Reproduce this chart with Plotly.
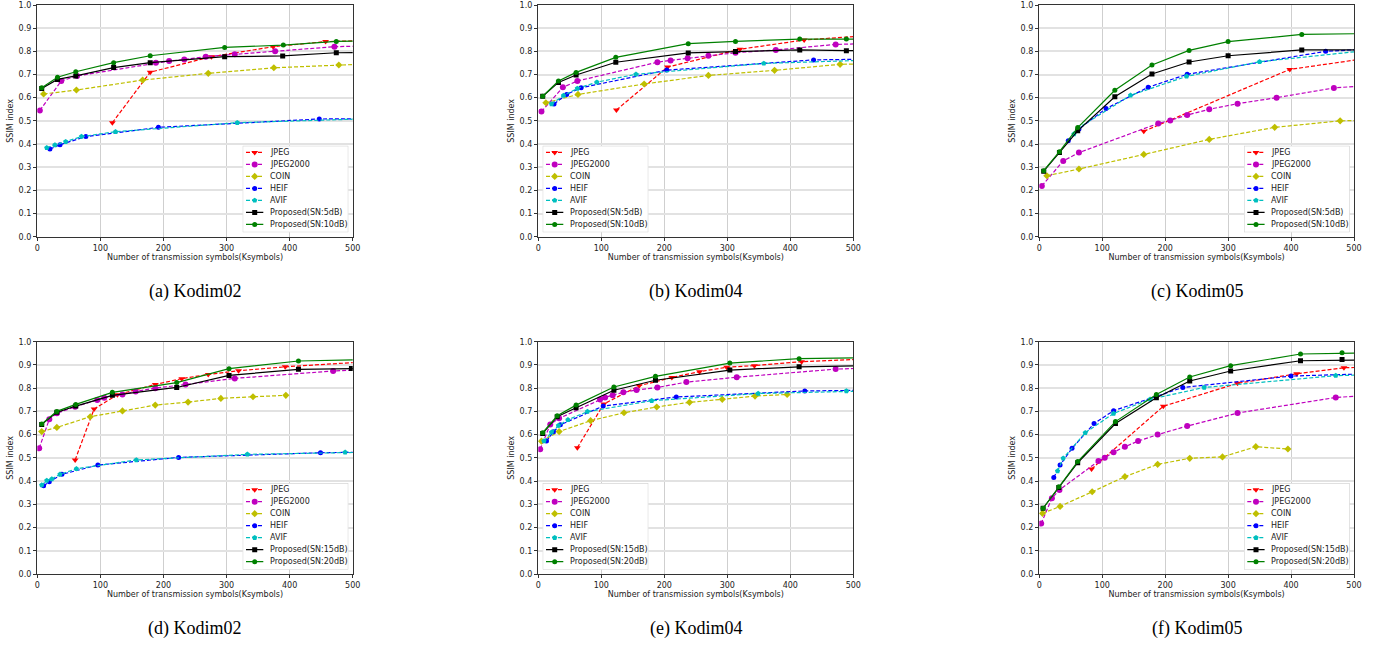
import plotly.graph_objects as go

FIG_W, FIG_H = 1385, 645

X_TICKS = [0, 100, 200, 300, 400, 500]
Y_TICKS = [0.0, 0.1, 0.2, 0.3, 0.4, 0.5, 0.6, 0.7, 0.8, 0.9, 1.0]
X_LABEL = "Number of transmission symbols(Ksymbols)"
Y_LABEL = "SSIM index"

NAMES_TOP = ["JPEG", "JPEG2000", "COIN", "HEIF", "AVIF", "Proposed(SN:5dB)", "Proposed(SN:10dB)"]
NAMES_BOTTOM = ["JPEG", "JPEG2000", "COIN", "HEIF", "AVIF", "Proposed(SN:15dB)", "Proposed(SN:20dB)"]
CAPTIONS = ["(a) Kodim02", "(b) Kodim04", "(c) Kodim05", "(d) Kodim02", "(e) Kodim04", "(f) Kodim05"]

# ---------------- (a) Kodim02, SN 5/10 dB ----------------
A_JPEG_X = [119, 179, 276, 374, 457, 540]
A_JPEG_Y = [0.492, 0.710, 0.777, 0.820, 0.842, 0.848]
A_J2K_X = [4, 38, 63, 188, 209, 233, 267, 313, 377, 471, 560]
A_J2K_Y = [0.545, 0.672, 0.694, 0.751, 0.758, 0.765, 0.777, 0.787, 0.800, 0.820, 0.826]
A_COIN_X = [10, 62, 167, 271, 375, 478, 580]
A_COIN_Y = [0.616, 0.633, 0.676, 0.705, 0.729, 0.741, 0.752]
A_HEIF_X = [20, 36, 77, 192, 447, 560]
A_HEIF_Y = [0.378, 0.397, 0.432, 0.472, 0.508, 0.509]
A_AVIF_X = [15, 28, 45, 70, 124, 317, 560]
A_AVIF_Y = [0.384, 0.396, 0.410, 0.432, 0.453, 0.492, 0.512]
A_P1_X = [7, 32, 61, 121, 179, 297, 389, 474, 560]
A_P1_Y = [0.640, 0.679, 0.694, 0.730, 0.751, 0.777, 0.780, 0.794, 0.796]
A_P2_X = [7, 32, 61, 121, 179, 297, 390, 474, 560]
A_P2_Y = [0.643, 0.688, 0.712, 0.751, 0.781, 0.817, 0.827, 0.843, 0.846]

# ---------------- (b) Kodim04, SN 5/10 dB ----------------
B_JPEG_X = [124, 205, 320, 422, 560]
B_JPEG_Y = [0.547, 0.732, 0.809, 0.849, 0.875]
B_J2K_X = [5, 39, 62, 189, 210, 237, 270, 313, 377, 472, 560]
B_J2K_Y = [0.540, 0.645, 0.672, 0.753, 0.761, 0.770, 0.781, 0.794, 0.806, 0.830, 0.836]
B_COIN_X = [12, 63, 168, 270, 375, 479, 580]
B_COIN_Y = [0.578, 0.614, 0.659, 0.696, 0.718, 0.744, 0.750]
B_HEIF_X = [25, 45, 68, 204, 437, 560]
B_HEIF_Y = [0.573, 0.614, 0.643, 0.719, 0.763, 0.768]
B_AVIF_X = [21, 40, 62, 93, 155, 358, 560]
B_AVIF_Y = [0.573, 0.609, 0.640, 0.667, 0.701, 0.748, 0.765]
B_P1_X = [7, 32, 60, 123, 238, 313, 415, 489, 560]
B_P1_Y = [0.606, 0.666, 0.698, 0.753, 0.793, 0.799, 0.806, 0.803, 0.802]
B_P2_X = [7, 32, 60, 123, 238, 313, 415, 489, 560]
B_P2_Y = [0.606, 0.672, 0.709, 0.774, 0.833, 0.843, 0.853, 0.853, 0.853]

# ---------------- (c) Kodim05, SN 5/10 dB ----------------
C_JPEG_X = [166, 398, 560]
C_JPEG_Y = [0.455, 0.722, 0.785]
C_J2K_X = [4, 38, 63, 189, 208, 235, 270, 315, 377, 468, 560]
C_J2K_Y = [0.219, 0.327, 0.363, 0.489, 0.502, 0.525, 0.550, 0.574, 0.600, 0.642, 0.660]
C_COIN_X = [12, 63, 166, 270, 374, 478, 580]
C_COIN_Y = [0.263, 0.292, 0.355, 0.420, 0.472, 0.500, 0.506]
C_HEIF_X = [46, 63, 106, 173, 235, 455, 560]
C_HEIF_Y = [0.414, 0.465, 0.553, 0.645, 0.701, 0.800, 0.815]
C_AVIF_X = [55, 62, 145, 234, 350, 560]
C_AVIF_Y = [0.443, 0.469, 0.610, 0.692, 0.755, 0.815]
C_P1_X = [7, 32, 61, 120, 179, 238, 300, 417, 560]
C_P1_Y = [0.283, 0.363, 0.457, 0.604, 0.702, 0.754, 0.781, 0.806, 0.806]
C_P2_X = [7, 32, 61, 120, 179, 238, 300, 417, 560]
C_P2_Y = [0.285, 0.367, 0.471, 0.632, 0.741, 0.804, 0.842, 0.873, 0.878]

# ---------------- (d) Kodim02, SN 15/20 dB ----------------
D_JPEG_X = [60, 90, 127, 187, 229, 271, 319, 393, 560]
D_JPEG_Y = [0.491, 0.710, 0.772, 0.816, 0.841, 0.859, 0.875, 0.892, 0.920]
D_J2K_X = [3, 19, 31, 60, 95, 106, 135, 156, 187, 235, 313, 469, 560]
D_J2K_Y = [0.541, 0.666, 0.692, 0.720, 0.749, 0.759, 0.773, 0.786, 0.800, 0.816, 0.842, 0.874, 0.885]
D_COIN_X = [7, 31, 84, 135, 187, 239, 291, 342, 394]
D_COIN_Y = [0.613, 0.631, 0.677, 0.702, 0.727, 0.740, 0.756, 0.763, 0.769]
D_HEIF_X = [10, 19, 39, 96, 224, 449, 560]
D_HEIF_Y = [0.380, 0.397, 0.429, 0.469, 0.502, 0.522, 0.526]
D_AVIF_X = [7, 15, 23, 36, 62, 157, 333, 488, 560]
D_AVIF_Y = [0.383, 0.402, 0.409, 0.429, 0.453, 0.491, 0.515, 0.524, 0.526]
D_P1_X = [7, 31, 61, 119, 221, 304, 414, 498, 560]
D_P1_Y = [0.644, 0.696, 0.723, 0.769, 0.803, 0.855, 0.881, 0.885, 0.886]
D_P2_X = [7, 31, 61, 119, 221, 304, 414, 560]
D_P2_Y = [0.646, 0.700, 0.730, 0.782, 0.824, 0.884, 0.917, 0.925]

# ---------------- (e) Kodim04, SN 15/20 dB ----------------
E_JPEG_X = [62, 104, 160, 212, 256, 299, 343, 418, 560]
E_JPEG_Y = [0.544, 0.732, 0.810, 0.846, 0.871, 0.890, 0.897, 0.914, 0.930]
E_J2K_X = [3, 19, 33, 98, 106, 118, 135, 156, 189, 235, 315, 472, 560]
E_J2K_Y = [0.537, 0.644, 0.670, 0.751, 0.760, 0.770, 0.782, 0.792, 0.803, 0.826, 0.847, 0.882, 0.890]
E_COIN_X = [5, 33, 83, 136, 188, 240, 292, 344, 395]
E_COIN_Y = [0.572, 0.613, 0.660, 0.694, 0.719, 0.739, 0.752, 0.766, 0.773]
E_HEIF_X = [13, 24, 35, 103, 219, 423, 560]
E_HEIF_Y = [0.572, 0.612, 0.642, 0.723, 0.762, 0.788, 0.792]
E_AVIF_X = [9, 21, 32, 47, 78, 180, 349, 489, 560]
E_AVIF_Y = [0.572, 0.610, 0.639, 0.664, 0.699, 0.746, 0.777, 0.788, 0.790]
E_P1_X = [7, 30, 60, 120, 186, 304, 414, 560]
E_P1_Y = [0.605, 0.677, 0.716, 0.791, 0.834, 0.878, 0.892, 0.898]
E_P2_X = [7, 30, 60, 120, 186, 304, 414, 560]
E_P2_Y = [0.608, 0.681, 0.727, 0.805, 0.851, 0.908, 0.927, 0.933]

# ---------------- (f) Kodim05, SN 15/20 dB ----------------
F_JPEG_X = [83, 197, 315, 409, 484, 560]
F_JPEG_Y = [0.452, 0.722, 0.821, 0.862, 0.888, 0.893]
F_J2K_X = [3, 20, 32, 94, 104, 118, 136, 157, 188, 235, 315, 471, 560]
F_J2K_Y = [0.217, 0.326, 0.362, 0.486, 0.500, 0.524, 0.548, 0.572, 0.600, 0.637, 0.693, 0.760, 0.775]
F_COIN_X = [5, 33, 84, 136, 188, 239, 291, 344, 395]
F_COIN_Y = [0.261, 0.291, 0.354, 0.419, 0.472, 0.498, 0.504, 0.548, 0.538]
F_HEIF_X = [23, 33, 52, 87, 118, 228, 400, 560]
F_HEIF_Y = [0.415, 0.469, 0.541, 0.648, 0.703, 0.803, 0.852, 0.865]
F_AVIF_X = [29, 38, 73, 118, 176, 262, 471, 560]
F_AVIF_Y = [0.443, 0.498, 0.608, 0.691, 0.752, 0.803, 0.854, 0.860]
F_P1_X = [6, 31, 61, 121, 186, 239, 304, 415, 481, 560]
F_P1_Y = [0.283, 0.372, 0.479, 0.648, 0.759, 0.831, 0.874, 0.918, 0.923, 0.923]
F_P2_X = [6, 31, 61, 121, 186, 239, 304, 415, 481, 560]
F_P2_Y = [0.283, 0.376, 0.484, 0.656, 0.773, 0.848, 0.897, 0.947, 0.952, 0.953]

PANEL_SERIES = [
    [(A_JPEG_X, A_JPEG_Y), (A_J2K_X, A_J2K_Y), (A_COIN_X, A_COIN_Y), (A_HEIF_X, A_HEIF_Y),
     (A_AVIF_X, A_AVIF_Y), (A_P1_X, A_P1_Y), (A_P2_X, A_P2_Y)],
    [(B_JPEG_X, B_JPEG_Y), (B_J2K_X, B_J2K_Y), (B_COIN_X, B_COIN_Y), (B_HEIF_X, B_HEIF_Y),
     (B_AVIF_X, B_AVIF_Y), (B_P1_X, B_P1_Y), (B_P2_X, B_P2_Y)],
    [(C_JPEG_X, C_JPEG_Y), (C_J2K_X, C_J2K_Y), (C_COIN_X, C_COIN_Y), (C_HEIF_X, C_HEIF_Y),
     (C_AVIF_X, C_AVIF_Y), (C_P1_X, C_P1_Y), (C_P2_X, C_P2_Y)],
    [(D_JPEG_X, D_JPEG_Y), (D_J2K_X, D_J2K_Y), (D_COIN_X, D_COIN_Y), (D_HEIF_X, D_HEIF_Y),
     (D_AVIF_X, D_AVIF_Y), (D_P1_X, D_P1_Y), (D_P2_X, D_P2_Y)],
    [(E_JPEG_X, E_JPEG_Y), (E_J2K_X, E_J2K_Y), (E_COIN_X, E_COIN_Y), (E_HEIF_X, E_HEIF_Y),
     (E_AVIF_X, E_AVIF_Y), (E_P1_X, E_P1_Y), (E_P2_X, E_P2_Y)],
    [(F_JPEG_X, F_JPEG_Y), (F_J2K_X, F_J2K_Y), (F_COIN_X, F_COIN_Y), (F_HEIF_X, F_HEIF_Y),
     (F_AVIF_X, F_AVIF_Y), (F_P1_X, F_P1_Y), (F_P2_X, F_P2_Y)],
]

# ---------------- styles ----------------
STYLES = [
    dict(color="#ff0000", dash="4px,2px", symbol="triangle-down", size=6),
    dict(color="#bf00bf", dash="4px,2px", symbol="circle", size=6),
    dict(color="#bfbf00", dash="4px,2px", symbol="diamond", size=5.5),
    dict(color="#0000ff", dash="4px,2px", symbol="circle", size=5),
    dict(color="#00bfbf", dash="4px,2px", symbol="pentagon", size=5.5),
    dict(color="#000000", dash="solid", symbol="square", size=5),
    dict(color="#008000", dash="solid", symbol="circle", size=5),
]
LINE_W = 1.2
FONT = "DejaVu Sans"

# panel placement in window pixels (left, right, top, bottom), legend corner
PANELS = [
    dict(L=37.3, R=352.7, T=5.0, B=236.7, loc="right", names=NAMES_TOP, cap_y=291),
    dict(L=538.3, R=853.3, T=5.0, B=236.7, loc="left", names=NAMES_TOP, cap_y=291),
    dict(L=1039.3, R=1354.0, T=5.0, B=236.7, loc="right", names=NAMES_TOP, cap_y=291),
    dict(L=37.3, R=352.7, T=341.7, B=574.0, loc="right", names=NAMES_BOTTOM, cap_y=628),
    dict(L=538.3, R=853.3, T=341.7, B=574.0, loc="left", names=NAMES_BOTTOM, cap_y=628),
    dict(L=1039.3, R=1354.0, T=341.7, B=574.0, loc="right", names=NAMES_BOTTOM, cap_y=628),
]
LEG_W, LEG_H, LEG_PAD = 105.6, 86.5, 4.4
LEG_ROW0, LEG_ROWSTEP = 6.6, 12.0
LEG_LINE_X0, LEG_MARK_X, LEG_LINE_X1, LEG_TEXT_X = 3.3, 12.0, 20.6, 25.0


def px_x(px):
    return px / FIG_W


def px_y(py):
    return 1 - py / FIG_H


fig = go.Figure()
layout = dict(
    template="none",
    width=FIG_W, height=FIG_H,
    margin=dict(l=0, r=0, t=0, b=0, pad=0, autoexpand=False),
    paper_bgcolor="white", plot_bgcolor="white",
    showlegend=False,
    font=dict(family=FONT, size=8, color="#222222"),
)
annotations = []
shapes = []


def ax_name(i):
    return "" if i == 1 else str(i)


n_panels = len(PANELS)
for k, (p, series) in enumerate(zip(PANELS, PANEL_SERIES), start=1):
    xa, ya = "x" + ax_name(k), "y" + ax_name(k)
    for name, (xs, ys), st in zip(p["names"], series, STYLES):
        fig.add_trace(go.Scatter(
            x=xs, y=ys, mode="lines+markers", name=name,
            line=dict(color=st["color"], width=LINE_W, dash=st["dash"]),
            marker=dict(symbol=st["symbol"], size=st["size"], color=st["color"],
                        line=dict(width=0)),
            xaxis=xa, yaxis=ya, showlegend=False, cliponaxis=True,
        ))
    layout["xaxis" + ax_name(k)] = dict(
        domain=[px_x(p["L"]), px_x(p["R"])], anchor=ya, automargin=False,
        range=[0, 500], tickvals=X_TICKS, ticktext=[str(v) for v in X_TICKS],
        showgrid=True, gridcolor="#cfcfcf", gridwidth=0.8, zeroline=False,
        showline=True, mirror=True, linecolor="#333333", linewidth=0.8,
        ticks="outside", ticklen=3.5, tickwidth=0.8, tickcolor="#333333",
        tickfont=dict(family=FONT, size=8, color="#222222"),
        title=dict(text=X_LABEL, font=dict(family=FONT, size=8, color="#222222"), standoff=2),
        fixedrange=True,
    )
    layout["yaxis" + ax_name(k)] = dict(
        domain=[px_y(p["B"]), px_y(p["T"])], anchor=xa, automargin=False,
        range=[0, 1], tickvals=Y_TICKS, ticktext=["%.1f" % v for v in Y_TICKS],
        showgrid=True, gridcolor="#e2e2e2", gridwidth=1.5, zeroline=False,
        showline=True, mirror=True, linecolor="#333333", linewidth=0.8,
        ticks="outside", ticklen=3.5, tickwidth=0.8, tickcolor="#333333",
        tickfont=dict(family=FONT, size=8, color="#222222"),
        title=dict(text=Y_LABEL, font=dict(family=FONT, size=8, color="#222222"), standoff=3),
        fixedrange=True,
    )
    annotations.append(dict(
        text=CAPTIONS[k - 1], xref="paper", yref="paper",
        x=px_x((p["L"] + p["R"]) / 2), y=px_y(p["cap_y"]),
        xanchor="center", yanchor="middle", showarrow=False,
        font=dict(family="Liberation Serif", size=18, color="black"),
    ))

# legends (drawn on small helper axes placed over each panel's corner)
for k, p in enumerate(PANELS, start=1):
    j = k + n_panels
    lx, ly = "x" + str(j), "y" + str(j)
    if p["loc"] == "right":
        bx1 = p["R"] - LEG_PAD
        bx0 = bx1 - LEG_W
    else:
        bx0 = p["L"] + LEG_PAD
        bx1 = bx0 + LEG_W
    by1 = p["B"] - LEG_PAD
    by0 = by1 - LEG_H
    layout["xaxis" + str(j)] = dict(domain=[px_x(bx0), px_x(bx1)], range=[0, LEG_W],
                                    visible=False, fixedrange=True, anchor=ly, automargin=False)
    layout["yaxis" + str(j)] = dict(domain=[px_y(by1), px_y(by0)], range=[0, LEG_H],
                                    visible=False, fixedrange=True, anchor=lx, automargin=False)
    shapes.append(dict(type="rect", xref=lx, yref=ly, x0=0, x1=LEG_W, y0=0, y1=LEG_H,
                       line=dict(color="#cccccc", width=1), fillcolor="rgba(255,255,255,0.85)",
                       layer="below"))
    for i, (name, st) in enumerate(zip(p["names"], STYLES)):
        yrow = LEG_H - (LEG_ROW0 + LEG_ROWSTEP * i)
        fig.add_trace(go.Scatter(
            x=[LEG_LINE_X0, LEG_LINE_X1], y=[yrow, yrow], mode="lines",
            line=dict(color=st["color"], width=LINE_W, dash=st["dash"]),
            xaxis=lx, yaxis=ly, showlegend=False, hoverinfo="skip",
        ))
        fig.add_trace(go.Scatter(
            x=[LEG_MARK_X], y=[yrow], mode="markers",
            marker=dict(symbol=st["symbol"], size=st["size"], color=st["color"], line=dict(width=0)),
            xaxis=lx, yaxis=ly, showlegend=False, hoverinfo="skip",
        ))
        annotations.append(dict(
            text=name, xref=lx, yref=ly, x=LEG_TEXT_X, y=yrow,
            xanchor="left", yanchor="middle", showarrow=False,
            font=dict(family=FONT, size=8, color="#222222"),
        ))

layout["annotations"] = annotations
layout["shapes"] = shapes
fig.update_layout(**layout)
# remove the page's default body margin so the figure fills the window from its corner
fig.write_html("out.html", config={"displayModeBar": False},
               post_script="document.body.style.margin='0px';")
